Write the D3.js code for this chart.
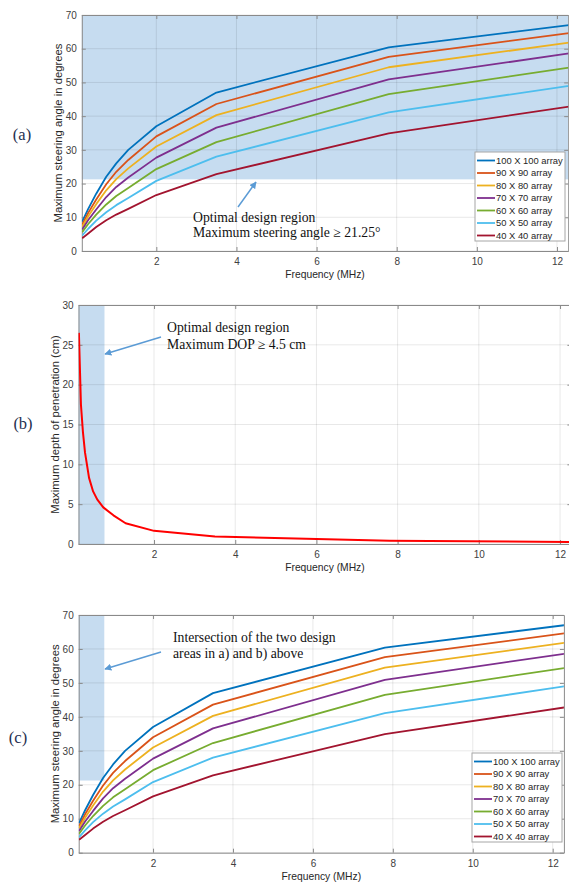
<!DOCTYPE html>
<html>
<head>
<meta charset="utf-8">
<script src="https://cdn.jsdelivr.net/npm/d3@7"></script>
<style>
  body { margin: 0; background: #fff; }
  svg { display: block; }
  .tick text { font-family: "Liberation Sans", Arial, sans-serif; fill: #404040; }
</style>
</head>
<body>
<div id="chart"></div>
<script>
// frequencies (MHz) sampled for the steering angle curves
var freq = [0.15, 0.3, 0.5, 0.75, 1.0, 1.3, 2, 3.5, 7.8, 12.3];

var arrayNames = ["100 X 100 array", "90 X 90 array", "80 X 80 array", "70 X 70 array",
                  "60 X 60 array", "50 X 50 array", "40 X 40 array"];
var arrayColors = ["#0072bd", "#d95319", "#edb120", "#7e2f8e", "#77ac30", "#4dbeee", "#a2142f"];

// maximum steering angle (degrees), one list per array size
var angle100 = [8.7, 12.5, 17.0, 22.0, 26.0, 30.0, 37.0, 47.0, 60.4, 67.0];
var angle90  = [7.8, 11.3, 15.3, 19.8, 23.5, 27.0, 34.0, 43.6, 57.6, 64.6];
var angle80  = [7.2, 10.3, 13.9, 18.0, 21.3, 24.5, 31.0, 40.3, 54.5, 61.8];
var angle70  = [6.4, 9.2, 12.3, 16.0, 19.0, 21.8, 27.7, 36.6, 50.9, 58.6];
var angle60  = [5.6, 8.0, 10.8, 13.8, 16.3, 18.7, 24.3, 32.3, 46.5, 54.4];
var angle50  = [4.6, 6.6, 9.0, 11.5, 13.6, 15.7, 20.8, 28.0, 41.1, 49.0];
var angle40  = [3.8, 5.2, 7.1, 9.1, 10.8, 12.5, 16.6, 22.8, 34.9, 42.8];
var angleSeries = [angle100, angle90, angle80, angle70, angle60, angle50, angle40];

// maximum depth of penetration (cm)
var dopFreq   = [0.15, 0.2, 0.25, 0.3, 0.4, 0.5, 0.6, 0.75, 1.0, 1.3, 2, 3.5, 7.8, 12.3];
var dopValues = [26.5, 17.5, 14.0, 11.5, 8.3, 6.6, 5.6, 4.6, 3.6, 2.6, 1.65, 0.95, 0.42, 0.25];

var xTicks = [2, 4, 6, 8, 10, 12];
var angleTicks = [0, 10, 20, 30, 40, 50, 60, 70];
var dopTicks = [0, 5, 10, 15, 20, 25, 30];

var minAngle = 21.25;   // design limit, panel a
var maxFreq = 0.78;     // design limit from DOP >= 4.5 cm, panel b

var W = 569, H = 886;
var xDomain = [0.14, 12.28];
var font = '"Liberation Sans", Arial, sans-serif';
var serif = '"Liberation Serif", "Times New Roman", serif';
var bandColor = "#c6dcf0";
var arrowColor = "#5b9bd5";

var svg = d3.select("#chart").append("svg")
  .attr("width", W).attr("height", H);

svg.append("defs").append("marker")
  .attr("id", "arrowhead")
  .attr("viewBox", "0 0 10 10")
  .attr("refX", 9).attr("refY", 5)
  .attr("markerWidth", 7).attr("markerHeight", 7)
  .attr("markerUnits", "userSpaceOnUse")
  .attr("orient", "auto")
  .append("path").attr("d", "M0,0 L10,5 L0,10 z").attr("fill", arrowColor);

var panels = [
  { key: "a", left: 81.8, right: 568.2, top: 15, bottom: 251, yMax: 70, yTicks: angleTicks,
    ylabel: "Maximum steering angle in degrees", band: "angle", legend: { x: 475, y: 152 },
    tag: { x: 22, y: 134, t: "(a)" },
    note: { x: 193, y: 217, lines: ["Optimal design region", "Maximum steering angle \u2265 21.25\u00b0"], gap: 15,
            arrow: [238, 207, 256, 182] } },
  { key: "b", left: 78.5, right: 571.4, top: 305, bottom: 544, yMax: 30, yTicks: dopTicks,
    ylabel: "Maximum depth of penetration (cm)", band: "freq", legend: null,
    tag: { x: 23, y: 423, t: "(b)" },
    note: { x: 167, y: 327, lines: ["Optimal design region", "Maximum DOP \u2265 4.5 cm"], gap: 17,
            arrow: [161, 337, 105, 354] } },
  { key: "c", left: 78.7, right: 563.9, top: 615, bottom: 852.7, yMax: 70, yTicks: angleTicks,
    ylabel: "Maximum steering angle in degrees", band: "both", legend: { x: 472, y: 753 },
    tag: { x: 18, y: 737, t: "(c)" },
    note: { x: 173, y: 637, lines: ["Intersection of the two design", "areas in a) and b) above"], gap: 16,
            arrow: [161, 652, 105, 669] } }
];

panels.forEach(drawPanel);

function drawPanel(p) {
  var x = d3.scaleLinear().domain(xDomain).range([p.left, p.right]);
  var y = d3.scaleLinear().domain([0, p.yMax]).range([p.bottom, p.top]);
  var g = svg.append("g");

  g.append("clipPath").attr("id", "clip-" + p.key)
    .append("rect").attr("x", p.left).attr("y", p.top)
    .attr("width", p.right - p.left).attr("height", p.bottom - p.top);

  // shaded design region
  var band = g.append("rect").attr("fill", bandColor);
  if (p.band == "angle") {
    band.attr("x", p.left).attr("width", p.right - p.left)
      .attr("y", y(p.yMax)).attr("height", y(minAngle) - y(p.yMax));
  } else if (p.band == "freq") {
    band.attr("x", p.left).attr("width", x(maxFreq) - p.left)
      .attr("y", p.top).attr("height", p.bottom - p.top);
  } else {
    band.attr("x", p.left).attr("width", x(maxFreq) - p.left)
      .attr("y", y(p.yMax)).attr("height", y(minAngle) - y(p.yMax));
  }

  // grid
  g.append("g").selectAll("line").data(xTicks).join("line")
    .attr("x1", d => x(d)).attr("x2", d => x(d))
    .attr("y1", p.top).attr("y2", p.bottom)
    .attr("stroke", "#000").attr("stroke-opacity", 0.09);
  g.append("g").selectAll("line").data(p.yTicks).join("line")
    .attr("x1", p.left).attr("x2", p.right)
    .attr("y1", d => y(d)).attr("y2", d => y(d))
    .attr("stroke", "#000").attr("stroke-opacity", 0.09);

  // axes (Matlab style: box, ticks pointing in)
  var xAxis = g.append("g").attr("transform", "translate(0," + p.bottom + ")")
    .call(d3.axisBottom(x).tickValues(xTicks).tickSize(-4).tickPadding(7).tickSizeOuter(0));
  var xAxisTop = g.append("g").attr("transform", "translate(0," + p.top + ")")
    .call(d3.axisTop(x).tickValues(xTicks).tickSize(-4).tickFormat("").tickSizeOuter(0));
  var yAxis = g.append("g").attr("transform", "translate(" + p.left + ",0)")
    .call(d3.axisLeft(y).tickValues(p.yTicks).tickSize(-4).tickPadding(5).tickSizeOuter(0));
  var yAxisR = g.append("g").attr("transform", "translate(" + p.right + ",0)")
    .call(d3.axisRight(y).tickValues(p.yTicks).tickSize(-4).tickFormat("").tickSizeOuter(0));
  [xAxis, xAxisTop, yAxis, yAxisR].forEach(function(a) {
    a.select(".domain").attr("stroke", "#8a8a8a");
    a.selectAll(".tick line").attr("stroke", "#8a8a8a");
    a.selectAll(".tick text").attr("font-size", 10).attr("font-family", font);
  });

  // data lines
  var lines = g.append("g").attr("clip-path", "url(#clip-" + p.key + ")");
  if (p.key == "b") {
    var line = d3.line().x((d, i) => x(dopFreq[i])).y(d => y(d));
    lines.append("path").datum(dopValues)
      .attr("d", line).attr("fill", "none")
      .attr("stroke", "#ff0000").attr("stroke-width", 2)
      .attr("stroke-linejoin", "round");
  } else {
    var line = d3.line().x((d, i) => x(freq[i])).y(d => y(d));
    lines.selectAll("path").data(angleSeries).join("path")
      .attr("d", line).attr("fill", "none")
      .attr("stroke", (d, i) => arrayColors[i]).attr("stroke-width", 1.8)
      .attr("stroke-linejoin", "round");
  }

  // axis labels
  g.append("text").attr("x", (p.left + p.right) / 2)
    .attr("y", p.bottom + 27)
    .attr("text-anchor", "middle").attr("font-family", font).attr("font-size", 10.3)
    .attr("fill", "#262626").text("Frequency (MHz)");
  g.append("text")
    .attr("transform", "translate(" + (p.left - 20) + "," + ((p.top + p.bottom) / 2) + ") rotate(-90)")
    .attr("text-anchor", "middle").attr("font-family", font).attr("font-size", 11.3)
    .attr("fill", "#262626").text(p.ylabel);

  // legend
  if (p.legend) {
    var lg = g.append("g").attr("transform", "translate(" + p.legend.x + "," + p.legend.y + ")");
    lg.append("rect").attr("width", 90).attr("height", 89)
      .attr("fill", "#fff").attr("stroke", "#a6a6a6").attr("stroke-width", 1);
    var items = lg.selectAll("g.item").data(arrayNames).join("g")
      .attr("class", "item")
      .attr("transform", (d, i) => "translate(0," + (8.5 + i * 12.5) + ")");
    items.append("line").attr("x1", 2).attr("x2", 20)
      .attr("stroke", (d, i) => arrayColors[i]).attr("stroke-width", 1.8);
    items.append("text").attr("x", 21).attr("dy", "0.35em")
      .attr("font-family", font).attr("font-size", 9.4).attr("fill", "#262626")
      .text(d => d);
  }

  // annotation
  var n = p.note;
  g.append("text").attr("font-family", serif).attr("font-size", 13.7).attr("fill", "#111")
    .selectAll("tspan").data(n.lines).join("tspan")
    .attr("x", n.x).attr("y", (d, i) => n.y + i * n.gap).attr("dy", "0.35em")
    .text(d => d);
  g.append("line")
    .attr("x1", n.arrow[0]).attr("y1", n.arrow[1]).attr("x2", n.arrow[2]).attr("y2", n.arrow[3])
    .attr("stroke", arrowColor).attr("stroke-width", 1.5)
    .attr("marker-end", "url(#arrowhead)");

  // panel tag
  g.append("text").attr("x", p.tag.x).attr("y", p.tag.y).attr("dy", "0.35em")
    .attr("text-anchor", "middle").attr("font-family", serif).attr("font-size", 16.5)
    .attr("fill", "#1f3050").text(p.tag.t);
}
</script>
</body>
</html>
